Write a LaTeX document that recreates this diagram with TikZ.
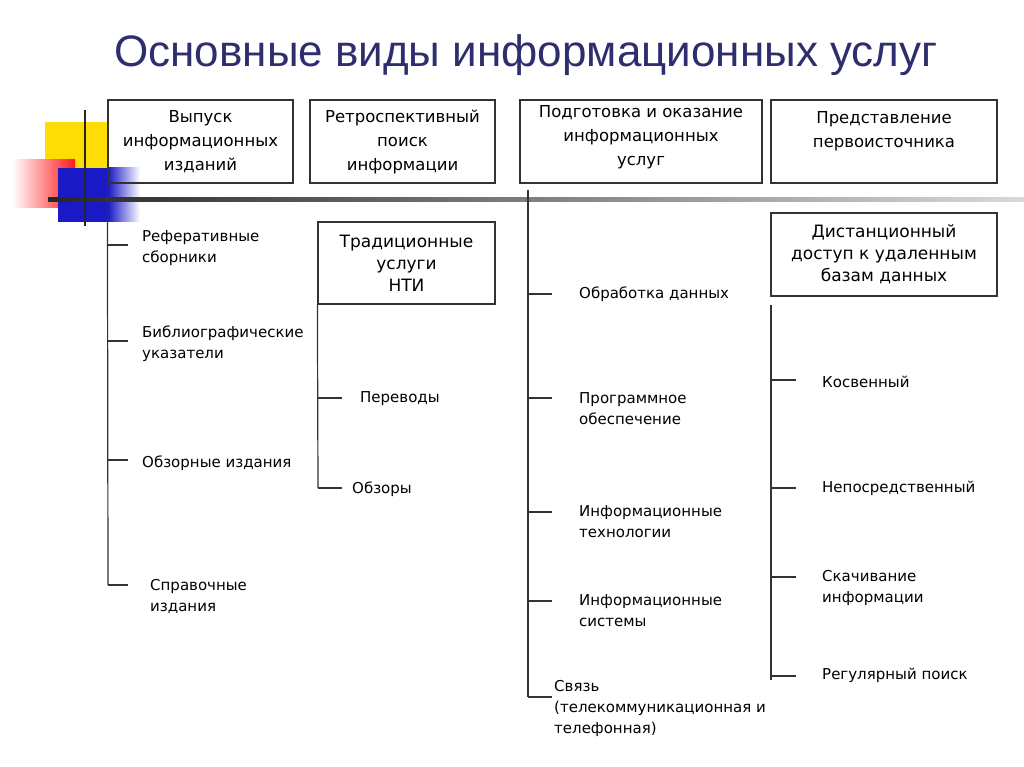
\documentclass[tikz,border=0pt]{standalone}
\usepackage{fontspec}
\setmainfont{DejaVu Sans}
\newfontfamily\titlefont{Liberation Sans}
\begin{document}
\begin{tikzpicture}[x=1pt,y=-1pt,
 hbox/.style={draw=black!80,line width=1.2pt,minimum width=#1,align=center,inner sep=0pt,font=\fontsize{16.5}{24}\selectfont},
 item/.style={anchor=west,align=left,font=\fontsize{15}{21}\selectfont,inner sep=0pt},
 ln/.style={draw=black!80,line width=1.2pt}]
\useasboundingbox (0,0) rectangle (1024,767);
% decoration
\fill[yellow!80!orange] (45,122) rectangle (108,170);
\shade[left color=white,right color=red!90] (12,160) rectangle (75,208);
\fill[blue!75!black!90] (58,168) rectangle (108,222);
\shade[left color=blue!75!black!90,right color=white] (108,168) rectangle (140,222);
\shade[left color=black!85,right color=black!15] (48,198) rectangle (1024,202);
\draw[black!85,line width=2.5pt] (85,110) -- (85,226);
\node (t) at (526,55) {\titlefont\fontsize{44}{50}\selectfont\color[HTML]{2E2E6E}Основные виды информационных услуг};
% top boxes
\node[hbox=185pt,minimum height=83pt] (b1) at (200.5,141.5) {Выпуск\\информационных\\изданий};
\node[hbox=185pt,minimum height=83pt] (b2) at (402.5,141.5) {Ретроспективный\\поиск\\информации};
\node[hbox=242pt,minimum height=83pt,text depth=12pt] (b3) at (641,141.5) {Подготовка и оказание\\информационных\\услуг};
\node[hbox=226pt,minimum height=83pt,text depth=24pt] (b4) at (884,141.5) {Представление\\первоисточника};
\node[hbox=177pt,minimum height=82pt,font=\fontsize{17}{22}\selectfont] (b5) at (406.5,263) {Традиционные\\услуги\\НТИ};
\node[hbox=226pt,minimum height=83pt,font=\fontsize{17}{22}\selectfont] (b6) at (884,254.5) {Дистанционный\\доступ к удаленным\\базам данных};
% column 1
\coordinate (c1e) at (108,585);
\draw[ln] (b1.south west) -- (c1e);
\foreach \y/\t/\x in {248/{Реферативные\\сборники}/142,344/{Библиографические\\указатели}/142,463/{Обзорные издания}/142,596/{Справочные\\издания}/150}{
 \coordinate (k) at (108,\y);
 \draw[ln] (k) ++(0,\ifdim\y pt=596pt -11\else -3\fi) -- ++(20,0);
 \node[item] at (\x,\y) {\t};}
% column 2
\draw[ln] (b5.south west) -- (318,488);
\draw[ln] (318,398) -- (342,398);
\draw[ln] (318,488) -- (342,488);
\node[item] (p1) at (360,399) {Переводы};
\node[item] (p2) at (352,489) {Обзоры};
% column 3
\draw[ln] (528,190) -- (528,697);
\foreach \y/\t/\yy in {294/{Обработка данных}/294,398/{Программное\\обеспечение}/409,512/{Информационные\\технологии}/522,601/{Информационные\\системы}/611}{
 \draw[ln] (528,\y) -- (552,\y);
 \node[item] at (579,\yy) {\t};}
\draw[ln] (528,697) -- (552,697);
\node[item,anchor=north west] at (554,680) {Связь\\(телекоммуникационная и\\телефонная)};
% column 4
\draw[ln] (771,305) -- (771,680);
\foreach \y/\t/\yy in {380/{Косвенный}/382,488/{Непосредственный}/488,577/{Скачивание\\информации}/588,676/{Регулярный поиск}/675}{
 \draw[ln] (771,\y) -- (796,\y);
 \node[item] at (822,\yy) {\t};}
\end{tikzpicture}
\end{document}
